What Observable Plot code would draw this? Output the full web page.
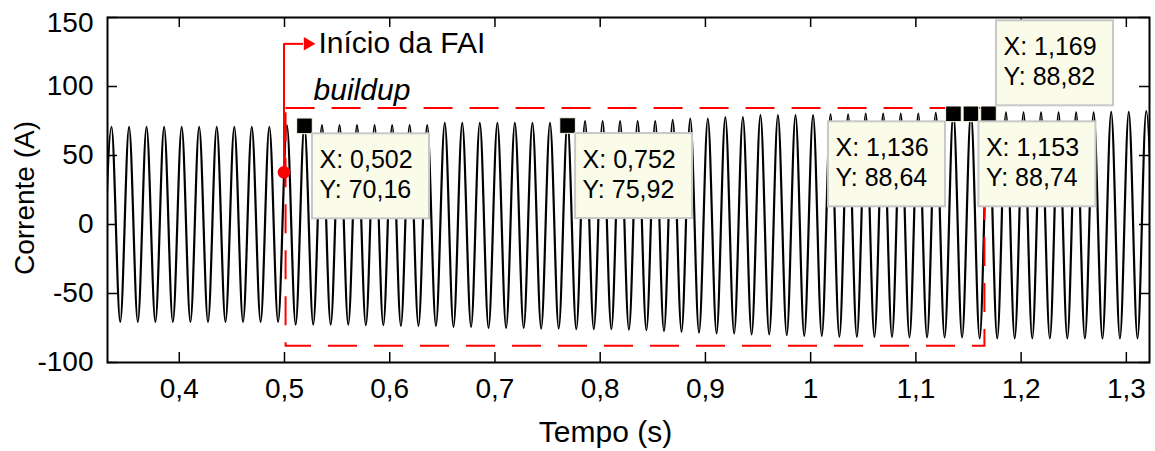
<!DOCTYPE html>
<html><head><meta charset="utf-8">
<script src="https://cdn.jsdelivr.net/npm/d3@7"></script>
<script src="https://cdn.jsdelivr.net/npm/@observablehq/plot@0.6"></script>
<style>html,body{margin:0;padding:0;background:#fff;} #chart svg{display:block}</style>
</head><body><div id="chart"></div>
<script>
// ---- Waveform extrema (time in s, current in A) ----
const peakT = [0.3356,0.3523,0.3689,0.3856,0.4023,0.4189,0.4356,0.4523,0.4689,0.4856,
  0.5023,0.5189,0.5356,0.5523,0.5689,0.5856,0.6023,0.6189,0.6356,0.6523,
  0.6689,0.6856,0.7023,0.7189,0.7356,0.7523,0.7689,0.7856,0.8023,0.8189,
  0.8356,0.8523,0.8689,0.8856,0.9023,0.9189,0.9356,0.9523,0.9689,0.9856,
  1.0023,1.0189,1.0356,1.0523,1.0689,1.0856,1.1023,1.1189,1.1356,1.1523,
  1.1689,1.1856,1.2023,1.2189,1.2356,1.2523,1.2689,1.2856,1.3023,1.3189];
const peakA = [70.7,70.7,70.7,70.7,70.7,70.7,70.7,70.7,70.7,70.7,
  71.9,72.0,72.0,72.0,72.0,72.0,72.0,72.0,72.0,73.6,
  73.6,73.6,73.6,73.6,73.6,73.6,74.3,75.0,75.0,75.0,
  75.0,75.0,75.8,76.8,76.8,77.9,77.9,79.2,79.2,79.2,
  79.2,79.9,79.9,80.4,80.4,80.4,80.4,80.9,80.9,80.9,
  80.9,81.2,81.2,81.2,81.2,81.2,81.2,81.6,81.6,82.1];
const troughT = [0.3273,0.3439,0.3606,0.3773,0.3939,0.4106,0.4273,0.4439,0.4606,0.4773,
  0.4939,0.5106,0.5273,0.5439,0.5606,0.5773,0.5939,0.6106,0.6273,0.6439,
  0.6606,0.6773,0.6939,0.7106,0.7273,0.7439,0.7606,0.7773,0.7939,0.8106,
  0.8273,0.8439,0.8606,0.8773,0.8939,0.9106,0.9273,0.9439,0.9606,0.9773,
  0.9939,1.0106,1.0273,1.0439,1.0606,1.0773,1.0939,1.1106,1.1273,1.1439,
  1.1606,1.1773,1.1939,1.2106,1.2273,1.2439,1.2606,1.2773,1.2939,1.3106,1.3273];
const troughA = [-70.6,-70.6,-70.6,-70.6,-70.6,-70.6,-70.6,-70.6,-70.6,-70.6,
  -70.6,-72.5,-72.5,-72.5,-72.5,-73.0,-73.0,-73.5,-73.5,-73.5,
  -74.2,-74.2,-74.9,-74.9,-74.9,-75.4,-75.4,-75.9,-75.9,-75.9,
  -76.2,-76.6,-77.3,-77.8,-78.3,-79.0,-79.0,-79.7,-79.7,-80.2,
  -80.7,-80.7,-81.4,-81.4,-81.4,-81.4,-81.9,-81.9,-81.9,-81.9,
  -82.6,-82.6,-82.6,-82.6,-82.6,-82.6,-82.6,-82.6,-82.6,-82.6,-82.6];

// ---- Axes ----
const xDomain = [0.3318, 1.322];
const yDomain = [-100, 150];
const xTicks = [0.4, 0.5, 0.6, 0.7, 0.8, 0.9, 1.0, 1.1, 1.2, 1.3];
const yTicks = [-100, -50, 0, 50, 100, 150];

// ---- Data tips ----
const tipT = [0.519, 0.769, 1.1357, 1.1523, 1.169];     // marker positions
const tipI = [71.5, 71.7, 80.2, 80.2, 80.2];
const tipXval = [0.502, 0.752, 1.136, 1.153, 1.169];   // tip texts
const tipYval = [70.16, 75.92, 88.64, 88.74, 88.82];
const tipSide = ["br", "br", "bl", "br", "tr"];

// ---- Annotations ----
const faiT = 0.4995, faiI = 37.9, faiLabelLevel = 130.9;
const buildupT = [0.5015, 1.1656];
const buildupI = [-88.2, 84.1];

const comma = d => String(d).replace(".", ",");

const wave = d3.sort([
  ...peakT.map((t, k) => ({t, i: peakA[k]})),
  ...troughT.map((t, k) => ({t, i: troughA[k]}))
], d => d.t);

const tips = tipT.map((t, k) => ({
  t, i: tipI[k], side: tipSide[k],
  lx: "X: " + tipXval[k].toFixed(3).replace(".", ","),
  ly: "Y: " + tipYval[k].toFixed(2).replace(".", ",")
}));

const BW = 117, BH = 85, G = 8;
function tipMarks(d) {
  const right = d.side !== "bl";
  const below = d.side !== "tr";
  const left0 = right ? G : -G - BW;     // box left offset (px) from marker
  const top0 = below ? G : -G - BH;      // box top offset (px) from marker
  return [
    Plot.rect([d], {x1: "t", x2: "t", y1: "i", y2: "i",
      insetLeft: left0, insetRight: -(left0 + BW),
      insetTop: top0, insetBottom: -(top0 + BH),
      fill: "#fbfbea", stroke: "#c8c8c8", strokeWidth: 2}),
    Plot.text([d], {x: "t", y: "i", text: "lx", dx: left0 + 7, dy: top0 + 34,
      textAnchor: "start", lineAnchor: "bottom", fontSize: 25, fill: "black"}),
    Plot.text([d], {x: "t", y: "i", text: "ly", dx: left0 + 7, dy: top0 + 64,
      textAnchor: "start", lineAnchor: "bottom", fontSize: 25, fill: "black"})
  ];
}

const chart = Plot.plot({
  width: 1155,
  height: 451,
  marginLeft: 107,
  marginRight: 6,
  marginTop: 17,
  marginBottom: 89,
  style: {fontFamily: "'Liberation Sans', Arial, sans-serif", background: "white", color: "black"},
  x: {domain: xDomain},
  y: {domain: yDomain},
  marks: [
    Plot.line(wave, {x: "t", y: "i", curve: "monotone-x", stroke: "black", strokeWidth: 2.2, clip: true}),
    Plot.rect([0], {x1: () => buildupT[0], x2: () => buildupT[1], y1: () => buildupI[0], y2: () => buildupI[1],
      fill: "none", stroke: "#ff0000", strokeWidth: 2, strokeDasharray: "29,17"}),
    // arrow "Início da FAI"
    Plot.ruleX([faiT], {x: d => d, y1: faiI, y2: faiLabelLevel, stroke: "#ff0000", strokeWidth: 2}),
    Plot.ruleY([faiLabelLevel], {y: d => d, x1: faiT, x2: faiT, insetRight: -19.5, stroke: "#ff0000", strokeWidth: 2}),
    Plot.dot([faiLabelLevel], {x: () => faiT, y: d => d, dx: 23.7, symbol: "triangle", rotate: 90, r: 5, fill: "#ff0000", stroke: "none"}),
    Plot.dot([faiI], {x: () => faiT, y: d => d, r: 6.3, fill: "#ff0000", stroke: "none"}),
    Plot.text(["Início da FAI"], {x: () => faiT, y: () => faiLabelLevel, text: d => d, dx: 34.5,
      textAnchor: "start", lineAnchor: "middle", fontSize: 30, fill: "black"}),
    Plot.text(["buildup"], {x: () => buildupT[0], y: () => buildupI[1], text: d => d, dx: 27.5, dy: -8,
      textAnchor: "start", lineAnchor: "bottom", fontSize: 30, fontStyle: "italic", fill: "black"}),
    // inward ticks on all four sides
    Plot.tickX(xTicks, {x: d => d, insetTop: 335, stroke: "black", strokeWidth: 1.5}),
    Plot.tickX(xTicks, {x: d => d, insetBottom: 335, stroke: "black", strokeWidth: 1.5}),
    Plot.tickY(yTicks, {y: d => d, insetRight: 1032, stroke: "black", strokeWidth: 1.5}),
    Plot.tickY(yTicks, {y: d => d, insetLeft: 1032, stroke: "black", strokeWidth: 1.5}),
    Plot.axisX({ticks: xTicks, tickFormat: comma, tickSize: 0, tickPadding: 16, fontSize: 28, label: null}),
    Plot.axisY({ticks: yTicks.slice(0, -1), tickFormat: d => String(d), tickSize: 0, tickPadding: 14, fontSize: 28, label: null}),
    Plot.axisY({ticks: yTicks.slice(-1), tickFormat: d => String(d), tickSize: 0, tickPadding: 14, dy: 6, fontSize: 28, label: null}),
    Plot.text(["Tempo (s)"], {text: d => d, frameAnchor: "bottom", dx: -23, dy: 79.5, lineAnchor: "bottom", fontSize: 30, fill: "black"}),
    Plot.text(["Corrente (A)"], {text: d => d, frameAnchor: "left", dx: -82, dy: 8, rotate: -90, lineAnchor: "middle", textAnchor: "middle", fontSize: 28, fill: "black"}),
    Plot.frame({stroke: "black", strokeWidth: 2}),
    // data tip markers and boxes
    Plot.dot(tips, {x: "t", y: "i", symbol: "square", r: 8.8, fill: "black", stroke: "#fbfbea", strokeWidth: 1}),
    ...tips.flatMap(tipMarks)
  ]
});
document.getElementById("chart").append(chart);
</script></body></html>
